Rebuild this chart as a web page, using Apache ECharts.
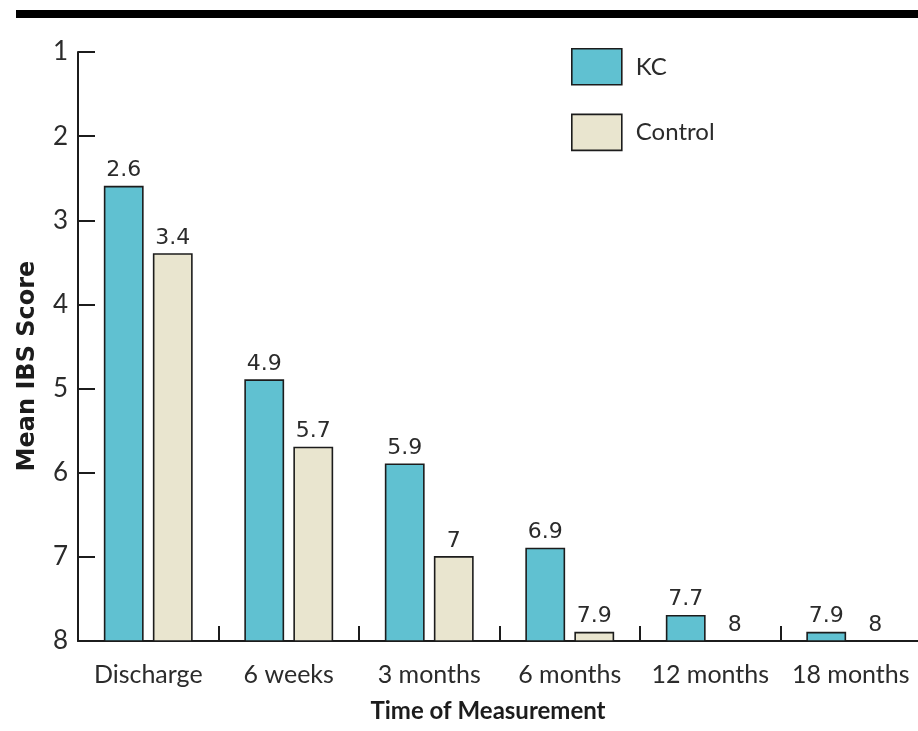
<!DOCTYPE html>
<html>
<head>
<meta charset="utf-8">
<script src="https://cdn.jsdelivr.net/npm/echarts@6/dist/echarts.min.js"></script>
<style>
  html, body { margin: 0; padding: 0; background: #ffffff; }
  #chart { width: 918px; height: 731px; }
</style>
</head>
<body>
<div id="chart"></div>
<script>
// Mean IBS score by time of measurement (lower bars = higher score; axis runs 1 at top to 8 at bottom)
const categories = ['Discharge', '6 weeks', '3 months', '6 months', '12 months', '18 months'];
const kcValues = [2.6, 4.9, 5.9, 6.9, 7.7, 7.9];
const controlValues = [3.4, 5.7, 7, 7.9, 8, 8];
const seriesNames = ['KC', 'Control'];
const seriesColors = ['#60c1d1', '#e9e5cf'];
const yTicks = [1, 2, 3, 4, 5, 6, 7, 8];

const Y_MIN = yTicks[0];
const Y_MAX = yTicks[yTicks.length - 1];

const chart = echarts.init(document.getElementById('chart'), null, { renderer: 'canvas' });

// Bars hang from the score-8 baseline up to each value; offset is the bar's side of the category centre.
function makeBarRenderer(offsetFrac, color) {
  return function (params, api) {
    const idx = api.value(0);
    const val = api.value(1);
    const bw = api.size([1, 0])[0];
    const barW = bw * 0.272;
    const top = api.coord([idx, val]);
    const base = api.coord([idx, Y_MAX]);
    const cx = top[0] + bw * offsetFrac;
    return {
      type: 'group',
      children: [
        {
          type: 'rect',
          shape: { x: cx - barW / 2, y: top[1], width: barW, height: base[1] - top[1] },
          style: { fill: color, stroke: '#1c1c1c', lineWidth: 1.6 }
        },
        {
          type: 'text',
          x: cx,
          y: top[1] - 16,
          style: {
            text: String(val),
            textAlign: 'center',
            textVerticalAlign: 'middle',
            fill: '#2b2b2b',
            font: '22px "DejaVu Sans"'
          }
        }
      ]
    };
  };
}

const valueSets = [kcValues, controlValues];
const offsets = [-0.1745, 0.1745];

const series = seriesNames.map(function (name, s) {
  return {
    name: name,
    type: 'custom',
    renderItem: makeBarRenderer(offsets[s], seriesColors[s]),
    encode: { x: 0, y: 1 },
    itemStyle: { color: seriesColors[s], borderColor: '#1c1c1c', borderWidth: 1.6 },
    data: valueSets[s].map(function (v, i) { return [i, v]; })
  };
});

chart.setOption({
  animation: false,
  backgroundColor: '#ffffff',
  grid: {
    left: 78,
    right: -3,
    top: 52,
    bottom: 90,
    containLabel: false,
    outerBoundsMode: 'none'
  },
  legend: {
    orient: 'vertical',
    left: 566,
    top: 43,
    icon: 'rect',
    itemWidth: 50,
    itemHeight: 36,
    itemGap: 28,
    selectedMode: false,
    itemStyle: { borderColor: '#1c1c1c', borderWidth: 1.6 },
    textStyle: {
      fontFamily: 'Lato',
      fontSize: 24,
      color: '#2b2b2b',
      padding: [0, 0, 0, 9]
    },
    data: seriesNames
  },
  xAxis: {
    type: 'category',
    data: categories,
    boundaryGap: true,
    axisLine: { show: true, lineStyle: { color: '#1c1c1c', width: 2 } },
    axisTick: { show: true, inside: true, length: 15, interval: 0, lineStyle: { color: '#1c1c1c', width: 2 } },
    axisLabel: {
      interval: 0,
      margin: 21,
      fontFamily: 'Lato',
      fontSize: 25,
      color: '#2b2b2b'
    },
    splitLine: { show: false }
  },
  yAxis: {
    type: 'value',
    inverse: true,
    min: Y_MIN,
    max: Y_MAX,
    interval: 1,
    axisLine: { show: true, lineStyle: { color: '#1c1c1c', width: 2 } },
    axisTick: { show: true, inside: true, length: 17, lineStyle: { color: '#1c1c1c', width: 2 } },
    axisLabel: {
      margin: 10,
      fontFamily: 'Lato',
      fontSize: 26,
      color: '#2b2b2b',
      verticalAlign: 'middle',
      padding: [0, 0, 20, 0]
    },
    splitLine: { show: false }
  },
  graphic: [
    {
      type: 'rect',
      left: 16,
      top: 10,
      shape: { width: 902, height: 8 },
      style: { fill: '#000000' }
    },
    {
      type: 'text',
      x: 488,
      y: 711,
      style: {
        text: 'Time of Measurement',
        textAlign: 'center',
        textVerticalAlign: 'middle',
        fill: '#1c1c1c',
        font: 'bold 24px Lato'
      }
    },
    {
      type: 'text',
      x: 28,
      y: 366,
      rotation: Math.PI / 2,
      style: {
        text: 'Mean IBS Score',
        textAlign: 'center',
        textVerticalAlign: 'middle',
        fill: '#1c1c1c',
        font: 'bold 24px "DejaVu Sans"'
      }
    }
  ],
  series: series
});
</script>
</body>
</html>
